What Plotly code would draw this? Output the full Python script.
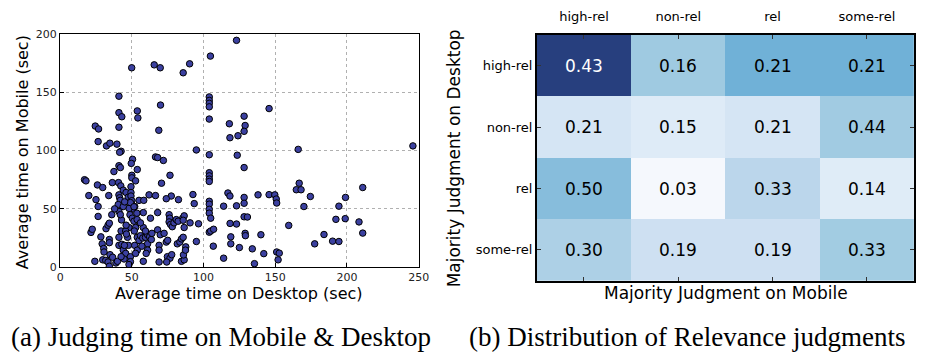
import numpy as np
import plotly.graph_objects as go

# ---- (a) average judging time per query, desktop vs mobile (seconds) ----
desktop_sec = [
    123, 104.8, 49.9, 65.6, 69.8, 85.8, 90.3,
    41, 53.8, 54.2, 41, 43, 70,
    24.5, 26.8, 41, 26.5, 32.3, 34.7, 39.6, 42.5, 41.5,
    68.8, 95,
    104, 104, 104, 104, 104,
    118, 124, 118.4, 128.3, 129, 128.3, 145.7,
    104, 123.5, 128.3, 166, 246,
    104, 104, 104, 104,
    53.8, 41, 42, 50.5, 49.6,
    66.5, 68, 72, 76.6, 70.7,
    50, 50, 52.6, 37.5, 36.4, 40.7,
    17, 18, 26, 29.7, 20, 25, 26.5, 26.5,
    33.9, 41, 41.5, 42, 40.5, 42.3, 44, 46, 47.5,
    49.4, 49.4, 49.4, 50, 49.5, 51, 52,
    62, 66.5, 55, 58.3, 58, 63, 68,
    77.5, 74, 82.5, 85.5, 92.6, 93.5, 90.6, 96.5, 95,
    104, 104, 104, 104, 105,
    104, 105, 107, 106.8, 114, 114,
    117, 118.4, 118.5, 119, 119, 123, 123, 125,
    128.3, 128.3, 128.3, 129, 129.2, 130.6, 134, 135.5,
    138, 140, 142, 145.7, 149.7, 150.7, 151,
    151, 152.8, 152, 159.4, 164.7, 166.7, 168, 170, 174.5,
    177.5, 184, 190, 194.4, 192.3, 194.4, 199, 198.8,
    208.4, 211, 211,
    21.5, 22.4, 24.2, 28.4, 29.3, 30.4, 30.6, 29.7, 31.8, 33.4, 34.3,
    32, 33.4, 34.3, 34.3, 34.3, 34.8, 36.6, 38.9, 40,
    41, 41, 42.5, 42.8, 41, 42, 44, 45.7, 44.6,
    47, 47.6, 48, 48.7, 48, 49, 50.3, 51.5, 52.6, 51.7,
    49, 49, 48, 52, 53.8, 52.6, 53.8, 55,
    56, 57.6, 59.5, 61, 58, 58, 59.5, 61, 61, 60,
    53.7, 53.5, 51.5, 62.4, 63.6, 68, 69, 69, 69, 69.8, 72.5,
    74, 75, 76, 76.4, 76, 77, 78.2, 79.4, 81, 82.3,
    74.8, 76.6, 74.3, 81.7, 83.5, 84.6, 85.8, 84.6, 86.5, 86,
    86.5, 85.8, 86.5, 87.6, 87.4, 77.8, 45.7, 46.2, 43, 44.8, 42.5,
    36, 38, 46, 56, 57, 64, 44, 45,
]
mobile_sec = [
    194.5, 181, 171, 173.5, 171, 166.7, 174.4,
    146.6, 134, 128, 132.5, 129, 139,
    121, 118.5, 120, 107.7, 104, 106.3, 105.5, 99.4, 98.5,
    117.4, 100.5,
    146, 143, 140.5, 137.5, 127,
    123, 112.7, 111, 129.5, 121.5, 116.5, 136,
    96.4, 96, 85.4, 101, 104,
    81, 78.3, 75.5, 73.5,
    83.7, 87, 85.4, 92.5, 89,
    94.5, 94, 91.5, 78.8, 72,
    78.8, 76.6, 74, 82, 72.5, 72.5,
    75, 74, 70.5, 68.3, 61.4, 57.9, 52, 43.5,
    61.4, 62, 59.5, 57.3, 53.7, 69.7, 66, 64, 60,
    69, 64, 61, 57, 53, 50, 52,
    62, 61.4, 57.3, 57.3, 46.8, 42, 46.8,
    61, 58.7, 57.9, 42, 62.3, 54.5, 38, 37.2, 22,
    56.5, 54, 49.6, 46.3, 42,
    30, 31, 32.5, 18, 7.7, 52.3,
    63.6, 61, 37.5, 26, 20, 52.6, 37, 16.8,
    59.8, 54.8, 43.2, 29, 27, 43, 15.7, 3,
    62, 27.8, 11.6, 62.2, 62, 58.4, 55,
    13, 12, 6.3, 35.8, 66.4, 72, 66.4, 52, 60.6,
    20, 28, 22.3, 22, 41, 52.3, 59.8, 41.6,
    38.8, 68.3, 29.2,
    29.8, 32.5, 5, 26, 20, 16, 13, 6.3, 5.8, 4.4, 0.8,
    33, 36, 37.7, 23.7, 21, 10.7, 8.5, 3.6, 5,
    25.6, 18.7, 31, 40.5, 47.7, 45, 14.6, 11.8, 7,
    25.6, 18.7, 34, 45, 50.4, 55.4, 42, 39.4, 34, 31,
    9, 4.7, 2.2, 18.7, 14.6, 11.8, 25.6, 22.9,
    27, 25, 25.6, 27.8, 5, 34, 31, 20, 14.6, 11.8,
    40.8, 46.3, 51.8, 26, 23.7, 32, 18.7, 14.6, 4.4, 27.8, 29,
    21.5, 23, 45, 42, 38.8, 36.6, 34.7, 38, 40.8, 39.4,
    9, 7.7, 4.4, 20, 21.5, 24.2, 25.6, 5, 6.3, 10.5,
    44, 40.2, 34, 17.4, 14.6, 10.7, 31, 28.4, 19.6, 18.7, 9,
    45, 50, 36, 38, 18, 29, 52, 56,
]

# ---- (b) relevance judgments: desktop majority (rows) vs mobile majority (cols) ----
labels = ["high-rel", "non-rel", "rel", "some-rel"]
row_share = [
    [0.43, 0.16, 0.21, 0.21],
    [0.21, 0.15, 0.21, 0.44],
    [0.50, 0.03, 0.33, 0.14],
    [0.30, 0.19, 0.19, 0.33],
]
row_totals = [70, 25, 26, 33]

share = np.array(row_share)
counts = share * np.array(row_totals)[:, None]

W, H = 927, 358


def px_x(p):
    return p / W


def px_y(p):
    return 1 - p / H


blues = [
    [0.0, "#fbfcfe"], [0.125, "#deebf7"], [0.25, "#c6dbef"], [0.375, "#9ecae1"],
    [0.5, "#6baed6"], [0.625, "#4a8ec2"], [0.75, "#3a6fa8"], [0.875, "#2f5592"],
    [1.0, "#273f7e"],
]

fig = go.Figure()

fig.add_trace(go.Scatter(
    x=desktop_sec, y=mobile_sec, mode="markers",
    marker=dict(size=6.5, color="#3b40a0", line=dict(color="black", width=1)),
    xaxis="x", yaxis="y", showlegend=False, hoverinfo="skip",
))

fig.add_trace(go.Heatmap(
    z=counts, x=labels, y=labels, colorscale=blues,
    zmin=0, zmax=counts.max(), showscale=False,
    xaxis="x2", yaxis="y2", hoverinfo="skip",
))

annotations = []
for i, r in enumerate(labels):
    for j, c in enumerate(labels):
        dark = counts[i, j] > 0.7 * counts.max()
        annotations.append(dict(
            x=c, y=r, xref="x2", yref="y2", text=f"{share[i, j]:.2f}",
            showarrow=False,
            font=dict(family="DejaVu Sans", size=17,
                      color="white" if dark else "black"),
        ))

sans = "DejaVu Sans"
scatter_title_font = dict(family=sans, size=16, color="black")
heat_title_font = dict(family=sans, size=17, color="black")
serif_font = dict(family="Liberation Serif", size=27, color="black")


def paper_text(text, x, y, font, angle=0):
    return dict(text=text, x=px_x(x), y=px_y(y), xref="paper", yref="paper",
                xanchor="center", yanchor="middle", showarrow=False,
                textangle=angle, font=font)


annotations += [
    paper_text("Average time on Desktop (sec)", 239, 298, scatter_title_font),
    paper_text("Average time on Mobile (sec)", 19, 152, scatter_title_font, -90),
    paper_text("Majority Judgment on Mobile", 733, 298, heat_title_font),
    paper_text("Majority Judgment on Desktop", 457, 158, heat_title_font, -90),
    paper_text("(a) Judging time on Mobile &amp; Desktop", 220, 343, serif_font),
    paper_text("(b) Distribution of Relevance judgments", 693, 343, serif_font),
]

axis_common = dict(showline=True, linecolor="black", linewidth=1.2, mirror=True,
                   ticks="inside", ticklen=4, tickcolor="black",
                   tickfont=dict(family=sans, size=11, color="#222"), zeroline=False)

fig.update_layout(
    width=W, height=H, margin=dict(l=0, r=0, t=0, b=0),
    paper_bgcolor="white", plot_bgcolor="white",
    xaxis=dict(domain=[px_x(57), px_x(421)], range=[0, 250],
               tickvals=[0, 50, 100, 150, 200, 250],
               showgrid=True, gridcolor="#b0b0b0", griddash="dot", gridwidth=1,
               anchor="y", **axis_common),
    yaxis=dict(domain=[px_y(271), px_y(29)], range=[0, 200],
               tickvals=[0, 50, 100, 150, 200],
               showgrid=True, gridcolor="#b0b0b0", griddash="dot", gridwidth=1,
               anchor="x", **axis_common),
    xaxis2=dict(domain=[px_x(541), px_x(924)], side="top", type="category",
                categoryorder="array", categoryarray=labels,
                showline=True, linecolor="black", linewidth=1.5, mirror="ticks",
                ticks="inside", ticklen=4, tickcolor="#333",
                tickfont=dict(family=sans, size=13, color="black"),
                ticklabelstandoff=7,
                anchor="y2", showgrid=False),
    yaxis2=dict(domain=[px_y(285), px_y(30)], type="category",
                categoryorder="array", categoryarray=labels, autorange="reversed",
                showline=True, linecolor="black", linewidth=1.5, mirror="ticks",
                ticks="inside", ticklen=4, tickcolor="#333",
                tickfont=dict(family=sans, size=13, color="black"),
                anchor="x2", showgrid=False),
    annotations=annotations,
)

fig.write_html("out.html")
